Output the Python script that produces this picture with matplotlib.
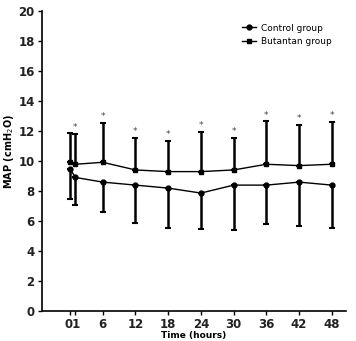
import matplotlib
matplotlib.use("Agg")
import matplotlib.pyplot as plt
from matplotlib.lines import Line2D
import numpy as np

# time points (hours)
hours = [0, 1, 6, 12, 18, 24, 30, 36, 42, 48]
tick_labels = ["", "", "6", "12", "18", "24", "30", "36", "42", "48"]

# Control group: mean and lower SD end
control_mean = [9.47, 8.90, 8.59, 8.39, 8.19, 7.86, 8.39, 8.39, 8.59, 8.39]
control_low = [7.49, 7.05, 6.57, 5.89, 5.56, 5.47, 5.38, 5.78, 5.64, 5.56]

# Butantan group: mean and upper SD end
butantan_mean = [9.91, 9.78, 9.91, 9.40, 9.29, 9.29, 9.40, 9.78, 9.69, 9.78]
butantan_high = [11.88, 11.82, 12.54, 11.56, 11.36, 11.93, 11.56, 12.63, 12.41, 12.59]

# significance marks (True = asterisk above Butantan bar)
signif = [False, True, True, True, True, True, True, True, True, True]

fig = plt.figure(figsize=(3.56, 3.41), dpi=100)
ax = fig.add_axes([0.117, 0.088, 0.855, 0.88])

t = np.array(hours, dtype=float)
cm = np.array(control_mean)
bm = np.array(butantan_mean)
c_err = [cm - np.array(control_low), np.zeros_like(cm)]
b_err = [np.zeros_like(bm), np.array(butantan_high) - bm]

ax.errorbar(t, cm, yerr=c_err, fmt="-o", color="black", ms=3.5, lw=1.0,
            elinewidth=1.8, capsize=2.2, capthick=1.5)
ax.errorbar(t, bm, yerr=b_err, fmt="-s", color="black", ms=3.5, lw=1.0,
            elinewidth=1.8, capsize=2.2, capthick=1.5)

for x, top, s in zip(t, butantan_high, signif):
    if s:
        ax.text(x, top + 0.12, "*", ha="center", va="bottom", fontsize=6.5,
                color="#444444")

ax.set_xlim(-5.2, 50.6)
ax.set_ylim(0, 20)
ax.set_yticks(np.arange(0, 21, 2))
ax.set_xticks(t)
ax.set_xticklabels(tick_labels)
# the 0 and 1 h labels sit together as "01"
ax.set_xticks([0.5], minor=True)
ax.set_xticklabels(["01"], minor=True)
ax.tick_params(axis="x", which="minor", length=0, pad=5)
for lab in (ax.get_xticklabels() + ax.get_yticklabels()
            + ax.get_xticklabels(minor=True)):
    lab.set_fontweight("bold")
    lab.set_fontsize(8.5)
    lab.set_color("#222222")
ax.tick_params(which="major", length=3, width=1, pad=2)

ax.spines["top"].set_visible(False)
ax.spines["right"].set_visible(False)
ax.spines["left"].set_linewidth(1.2)
ax.spines["bottom"].set_linewidth(1.2)

ax.set_ylabel("MAP (cmH$_2$O)", fontsize=7, fontweight="bold", labelpad=6)
ax.yaxis.set_label_coords(-0.085, 0.53)
ax.set_xlabel("Time (hours)", fontsize=6.5, fontweight="bold")
ax.xaxis.set_label_coords(0.5, -0.066)

handles = [
    Line2D([], [], color="black", marker="o", ms=3.5, lw=1.0),
    Line2D([], [], color="black", marker="s", ms=3.5, lw=1.0),
]
ax.legend(handles, ["Control group", "Butantan group"], loc="upper right",
          bbox_to_anchor=(0.98, 0.985), fontsize=6.5, frameon=False,
          handlelength=1.5, handletextpad=0.6, labelspacing=0.5)

fig.savefig("out.png", dpi=100)
